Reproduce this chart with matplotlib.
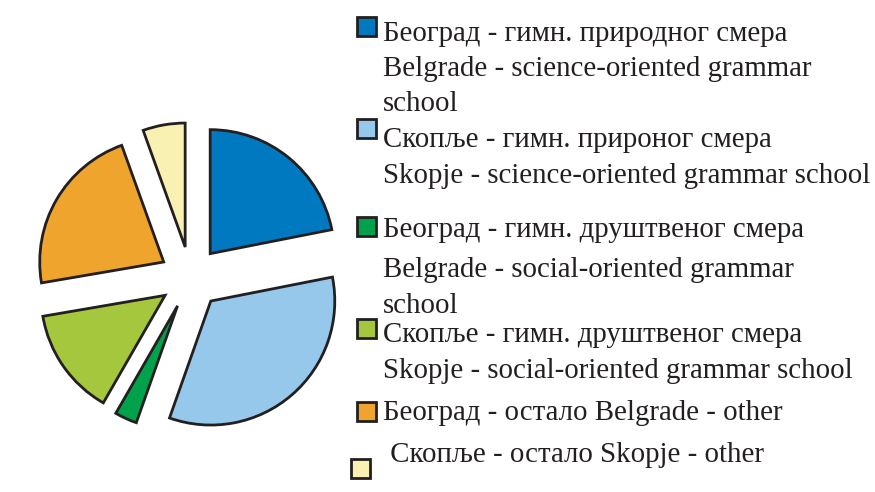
import matplotlib.pyplot as plt
from matplotlib.patches import Rectangle

# shares (%), clockwise from 12 o'clock
shares = [21.9, 33.5, 2.9, 14.0, 22.2, 5.5]
colors = ["#0079c1", "#96c8ec", "#00a14b", "#a5c73d", "#efa42e", "#f9f1b1"]

legend_lines = [
    ["Београд - гимн. природног смера",
     "Belgrade - science-oriented grammar",
     "school"],
    ["Скопље - гимн. прироног смера",
     "Skopje - science-oriented grammar school"],
    ["Београд - гимн. друштвеног смера",
     "Belgrade - social-oriented grammar",
     "school"],
    ["Скопље - гимн. друштвеног смера",
     "Skopje - social-oriented grammar school"],
    ["Београд - остало Belgrade - other"],
    [" Скопље - остало Skopje - other"],
]

W, H = 875, 492
fig = plt.figure(figsize=(W / 100, H / 100), dpi=100)

# pie: centre at (190.5, 277.6) px, radius 124 px
cx, cy, r = 190.5, 277.6, 124.0
half = 190.0
ax = fig.add_axes([(cx - half) / W, (H - cy - half) / H, 2 * half / W, 2 * half / H])
ax.pie(shares, colors=colors, startangle=90, counterclock=False,
       explode=[0.25] * len(shares),
       wedgeprops=dict(edgecolor="#231f20", linewidth=2.0, joinstyle="miter"))
lim = half / r
ax.set_xlim(-lim, lim)
ax.set_ylim(-lim, lim)
ax.set_aspect("equal")
ax.axis("off")

# legend, drawn by hand in pixel positions
marker_y = [26, 128, 226, 328, 411, 468]
marker_x = [366, 366, 366, 366, 366, 360.5]
baselines = [[40.7, 75.5, 110.7], [146.7, 182.7], [237.3, 276.7, 312.7],
             [341.7, 377.7], [420.0], [461.7]]
size = 19
for i, lines in enumerate(legend_lines):
    mx, my = marker_x[i], marker_y[i]
    fig.patches.append(Rectangle(((mx - size / 2) / W, (H - my - size / 2) / H),
                                 size / W, size / H, transform=fig.transFigure,
                                 facecolor=colors[i], edgecolor="#231f20",
                                 linewidth=2.0))
    for line, b in zip(lines, baselines[i]):
        fig.text(383 / W, (H - b) / H, line, fontsize=20.8,
                 family="Liberation Serif", color="#231f20",
                 ha="left", va="baseline")

fig.savefig("out.png", dpi=100)
